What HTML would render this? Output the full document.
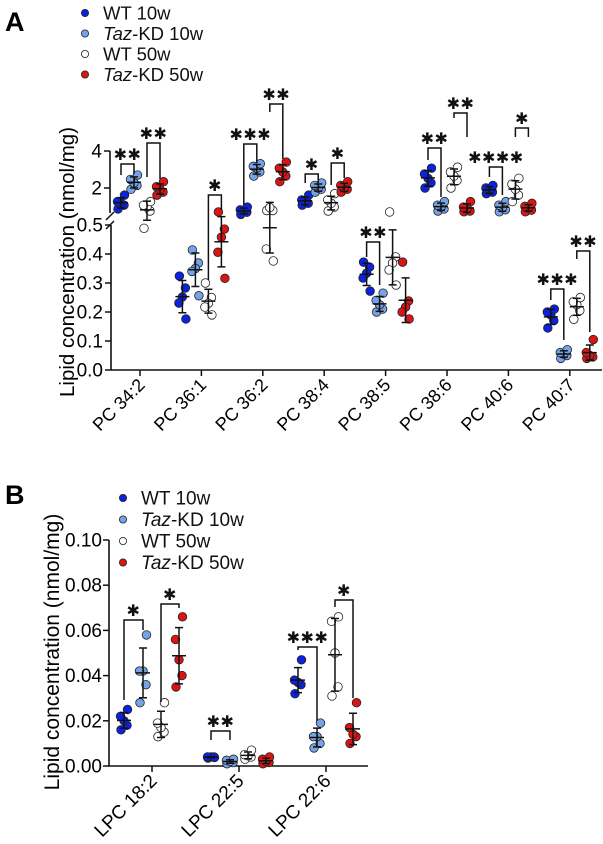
<!DOCTYPE html>
<html><head><meta charset="utf-8"><style>
html,body{margin:0;padding:0;background:#fff;}
svg{display:block;font-family:"Liberation Sans",Arial,sans-serif;}
</style></head><body>
<svg id="chart" width="603" height="844" viewBox="0 0 603 844">
<g id="A"></g>
<g id="B"></g>
</svg>
<script>
const seriesNames = ["WT 10w","Taz-KD 10w","WT 50w","Taz-KD 50w"];
const seriesColors = ["#0b22e0","#74a3e8","#ffffff","#dc1414"];
// Panel A data
const catsA = ["PC 34:2","PC 36:1","PC 36:2","PC 38:4","PC 38:5","PC 38:6","PC 40:6","PC 40:7"];
const wt10A = [[1.35,1.45,1.5,1.55,1.75],[0.324,0.283,0.252,0.231,0.176],[1.22,1.27,1.3,1.33,1.4],[1.45,1.5,1.55,1.6,1.75],[0.372,0.355,0.334,0.317,0.272],[2.0,2.2,2.4,2.6,2.9],[1.8,1.85,1.9,2.0,2.1],[0.145,0.17,0.19,0.2,0.21]];
const taz10A = [[1.95,2.1,2.2,2.35,2.55],[0.414,0.369,0.35,0.34,0.256],[2.5,2.7,2.9,3.0,3.15],[1.85,1.95,2.0,2.1,2.2],[0.2,0.21,0.225,0.24,0.265],[1.3,1.35,1.4,1.45,1.55],[1.28,1.33,1.38,1.45,1.55],[0.04,0.05,0.055,0.06,0.07]];
const wt50A = [[0.94,1.3,1.4,1.45,1.55],[0.3,0.25,0.23,0.217,0.19],[0.55,0.55,0.56,0.417,0.376],[1.3,1.4,1.5,1.6,1.8],[0.545,0.39,0.369,0.345,0.293],[2.0,2.3,2.5,2.7,2.95],[1.55,1.75,1.95,2.15,2.4],[0.175,0.205,0.225,0.235,0.25]];
const taz50A = [[1.75,1.85,1.95,2.05,2.25],[0.545,0.486,0.458,0.406,0.316],[2.25,2.5,2.7,2.9,3.25],[1.85,1.95,2.0,2.1,2.25],[0.372,0.238,0.217,0.2,0.176],[1.28,1.3,1.35,1.4,1.55],[1.28,1.32,1.38,1.42,1.5],[0.04,0.045,0.05,0.06,0.105]];
const lowTicksA = [0.0,0.1,0.2,0.3,0.4,0.5];
const highTicksA = [2,4];
// Panel B data
const catsB = ["LPC 18:2","LPC 22:5","LPC 22:6"];
const wt10B = [[0.016,0.018,0.02,0.022,0.025],[0.0035,0.004,0.004,0.004,0.0038],[0.032,0.036,0.037,0.038,0.047]];
const taz10B = [[0.028,0.036,0.042,0.042,0.058],[0.001,0.0015,0.002,0.0025,0.003],[0.008,0.01,0.013,0.013,0.019]];
const wt50B = [[0.013,0.015,0.017,0.019,0.028],[0.003,0.004,0.0045,0.005,0.007],[0.031,0.035,0.05,0.064,0.066]];
const taz50B = [[0.035,0.04,0.047,0.056,0.066],[0.001,0.0015,0.002,0.003,0.004],[0.01,0.013,0.014,0.017,0.028]];
const ticksB = [0,0.02,0.04,0.06,0.08,0.10];
const tickLabelsB = ["0.00","0.02","0.04","0.06","0.08","0.10"];
// significance annotations: [category, fromSeries, toSeries, topY, leftBottomY, rightBottomY, label]
const sigA = [[0,0,1,164,175,174,"**"],[0,2,3,143,177,179,"**"],[1,2,3,195,280,210,"*"],[2,0,1,144,205,163,"***"],[2,2,3,104,112,159,"**"],[3,0,1,174,183,183,"*"],[3,2,3,163,185,178,"*"],[4,0,1,242,257,285,"**"],[5,0,1,148,160,197,"**"],[5,2,3,113,118,137,"**"],[6,0,1,167,177,195,"****"],[6,2,3,128,137,137,"*"],[7,0,1,289,300,340,"***"],[7,2,3,251,259,332,"**"]];
const sigB = [[0,0,1,620,700,630,"*"],[0,2,3,604,702,608,"*"],[1,0,1,731,740,740,"**"],[2,0,1,647,650,721,"***"],[2,2,3,600,607,698,"*"]];

const NS="http://www.w3.org/2000/svg";
function mk(parent,tag,attrs,text){const e=document.createElementNS(NS,tag);for(const k in attrs)e.setAttribute(k,attrs[k]);if(text!==undefined)e.textContent=text;parent.appendChild(e);return e;}
function stats(a){const m=a.reduce((s,v)=>s+v,0)/a.length;const sd=Math.sqrt(a.reduce((s,v)=>s+(v-m)*(v-m),0)/(a.length-1));return [m,sd];}
const jitter=[-3,3,0,-3.5,3.5];

function drawLegend(g,x,y0,dy,fs){
  seriesNames.forEach((n,i)=>{
    const c=mk(g,"circle",{cx:x,cy:y0+i*dy,r:3.6,fill:seriesColors[i],stroke:"#222","stroke-width":0.8});
    
    
    const t=mk(g,"text",{x:x+18,y:y0+i*dy+6.5,"font-size":fs,fill:"#111"});
    
    
    if(n.startsWith("Taz")){mk(t,"tspan",{"font-style":"italic"},"Taz");mk(t,"tspan",{},n.slice(3));}
    else t.textContent=n;
  });
}
function drawGroup(g,xc,vals,yf,col,nm){
  vals.forEach((v,j)=>{
    const c=mk(g,"circle",{cx:xc+jitter[j],cy:yf(v),r:4.3,fill:col,stroke:"#222","stroke-width":0.8});
    
    
  });
  const [m,sd]=stats(vals);
  const ym=yf(m),yt=yf(m+sd),yb=yf(Math.max(m-sd,0));
  const e=mk(g,"path",{d:`M${xc-7},${ym}H${xc+7}M${xc},${yt}V${yb}M${xc-4},${yt}H${xc+4}M${xc-4},${yb}H${xc+4}`,stroke:"#111","stroke-width":1.5,fill:"none"});
  
  
}
function drawSig(g,s,xf,offs,fs){
  const [c,a,b,top,lb,rb,lab]=s;const x1=xf(c)+offs[a],x2=xf(c)+offs[b];
  const p=mk(g,"path",{d:`M${x1},${lb}V${top}H${x2}V${rb}`,stroke:"#111","stroke-width":1.5,fill:"none"});
  
  
  const t=mk(g,"text",{x:(x1+x2)/2,y:top-4,"font-size":fs,"text-anchor":"middle",fill:"#111","letter-spacing":"0.5"},lab.replace(/\*/g,"✱"));
  
  
}

// ---------- Panel A
(function(){
  const g=document.getElementById("A");
  const yA=v=> v<=0.6 ? 370-290*v : 188-37*Math.log2(v/2);
  const xA=i=>140+i*61.4;
  const offs=[-19,-6,7,20];
  const L=mk(g,"text",{x:5,y:31,"font-size":27,"font-weight":"bold"},"A");
  
  drawLegend(g,85,13,20.5,18.5);
  const ax=mk(g,"path",{d:`M111,370V225M110,213V151M111,370H602`,stroke:"#111","stroke-width":1.6,fill:"none"});
  
  const br=mk(g,"path",{d:`M106,220L114,212M106,229L114,221`,stroke:"#111","stroke-width":1.5,fill:"none"});
  
  lowTicksA.forEach(v=>{const y=yA(v);mk(g,"line",{x1:105,x2:111,y1:y,y2:y,stroke:"#111","stroke-width":1.5});
    const t=mk(g,"text",{x:103,y:y+6.5,"font-size":19,"text-anchor":"end"},v.toFixed(1));
    });
  highTicksA.forEach(v=>{const y=yA(v);mk(g,"line",{x1:104,x2:110,y1:y,y2:y,stroke:"#111","stroke-width":1.5});
    const t=mk(g,"text",{x:102,y:y+6.5,"font-size":19,"text-anchor":"end"},String(v));
    });
  const yt=mk(g,"text",{x:0,y:0,"font-size":20.5,"text-anchor":"middle",transform:"translate(74,262) rotate(-90)"},"Lipid concentration (nmol/mg)");
  
  catsA.forEach((c,i)=>{const x=xA(i);mk(g,"line",{x1:x,x2:x,y1:370,y2:376,stroke:"#111","stroke-width":1.5});
    const t=mk(g,"text",{x:0,y:0,"font-size":18,"text-anchor":"end",transform:`translate(${x+6},${386}) rotate(-45)`},c);
    });
  [wt10A,taz10A,wt50A,taz50A].forEach((ser,s)=>ser.forEach((vals,i)=>drawGroup(g,xA(i)+offs[s],vals,yA,seriesColors[s],'series'+s)));
  sigA.forEach(s=>drawSig(g,s,xA,offs,16));
})();

// ---------- Panel B
(function(){
  const g=document.getElementById("B");
  const yB=v=>766-2260*v;
  const xB=i=>152+i*87;
  const offs=[-28,-9,9,27];
  const L=mk(g,"text",{x:5,y:504,"font-size":27,"font-weight":"bold"},"B");
  
  drawLegend(g,123,498,21.5,19);
  const ax=mk(g,"path",{d:`M109,540V766H368`,stroke:"#111","stroke-width":1.6,fill:"none"});
  
  ticksB.forEach((v,k)=>{const y=yB(v);mk(g,"line",{x1:103,x2:109,y1:y,y2:y,stroke:"#111","stroke-width":1.5});
    const t=mk(g,"text",{x:102,y:y+6.5,"font-size":19,"text-anchor":"end"},tickLabelsB[k]);
    });
  const yt=mk(g,"text",{x:0,y:0,"font-size":21,"text-anchor":"middle",transform:"translate(59,652) rotate(-90)"},"Lipid concentration (nmol/mg)");
  
  catsB.forEach((c,i)=>{const x=xB(i);mk(g,"line",{x1:x,x2:x,y1:766,y2:772,stroke:"#111","stroke-width":1.5});
    const t=mk(g,"text",{x:0,y:0,"font-size":19,"text-anchor":"end",transform:`translate(${x+6},${782}) rotate(-45)`},c);
    });
  [wt10B,taz10B,wt50B,taz50B].forEach((ser,s)=>ser.forEach((vals,i)=>drawGroup(g,xB(i)+offs[s],vals,yB,seriesColors[s],'series'+s)));
  sigB.forEach(s=>drawSig(g,s,xB,offs,16));
})();
</script>
</body></html>
